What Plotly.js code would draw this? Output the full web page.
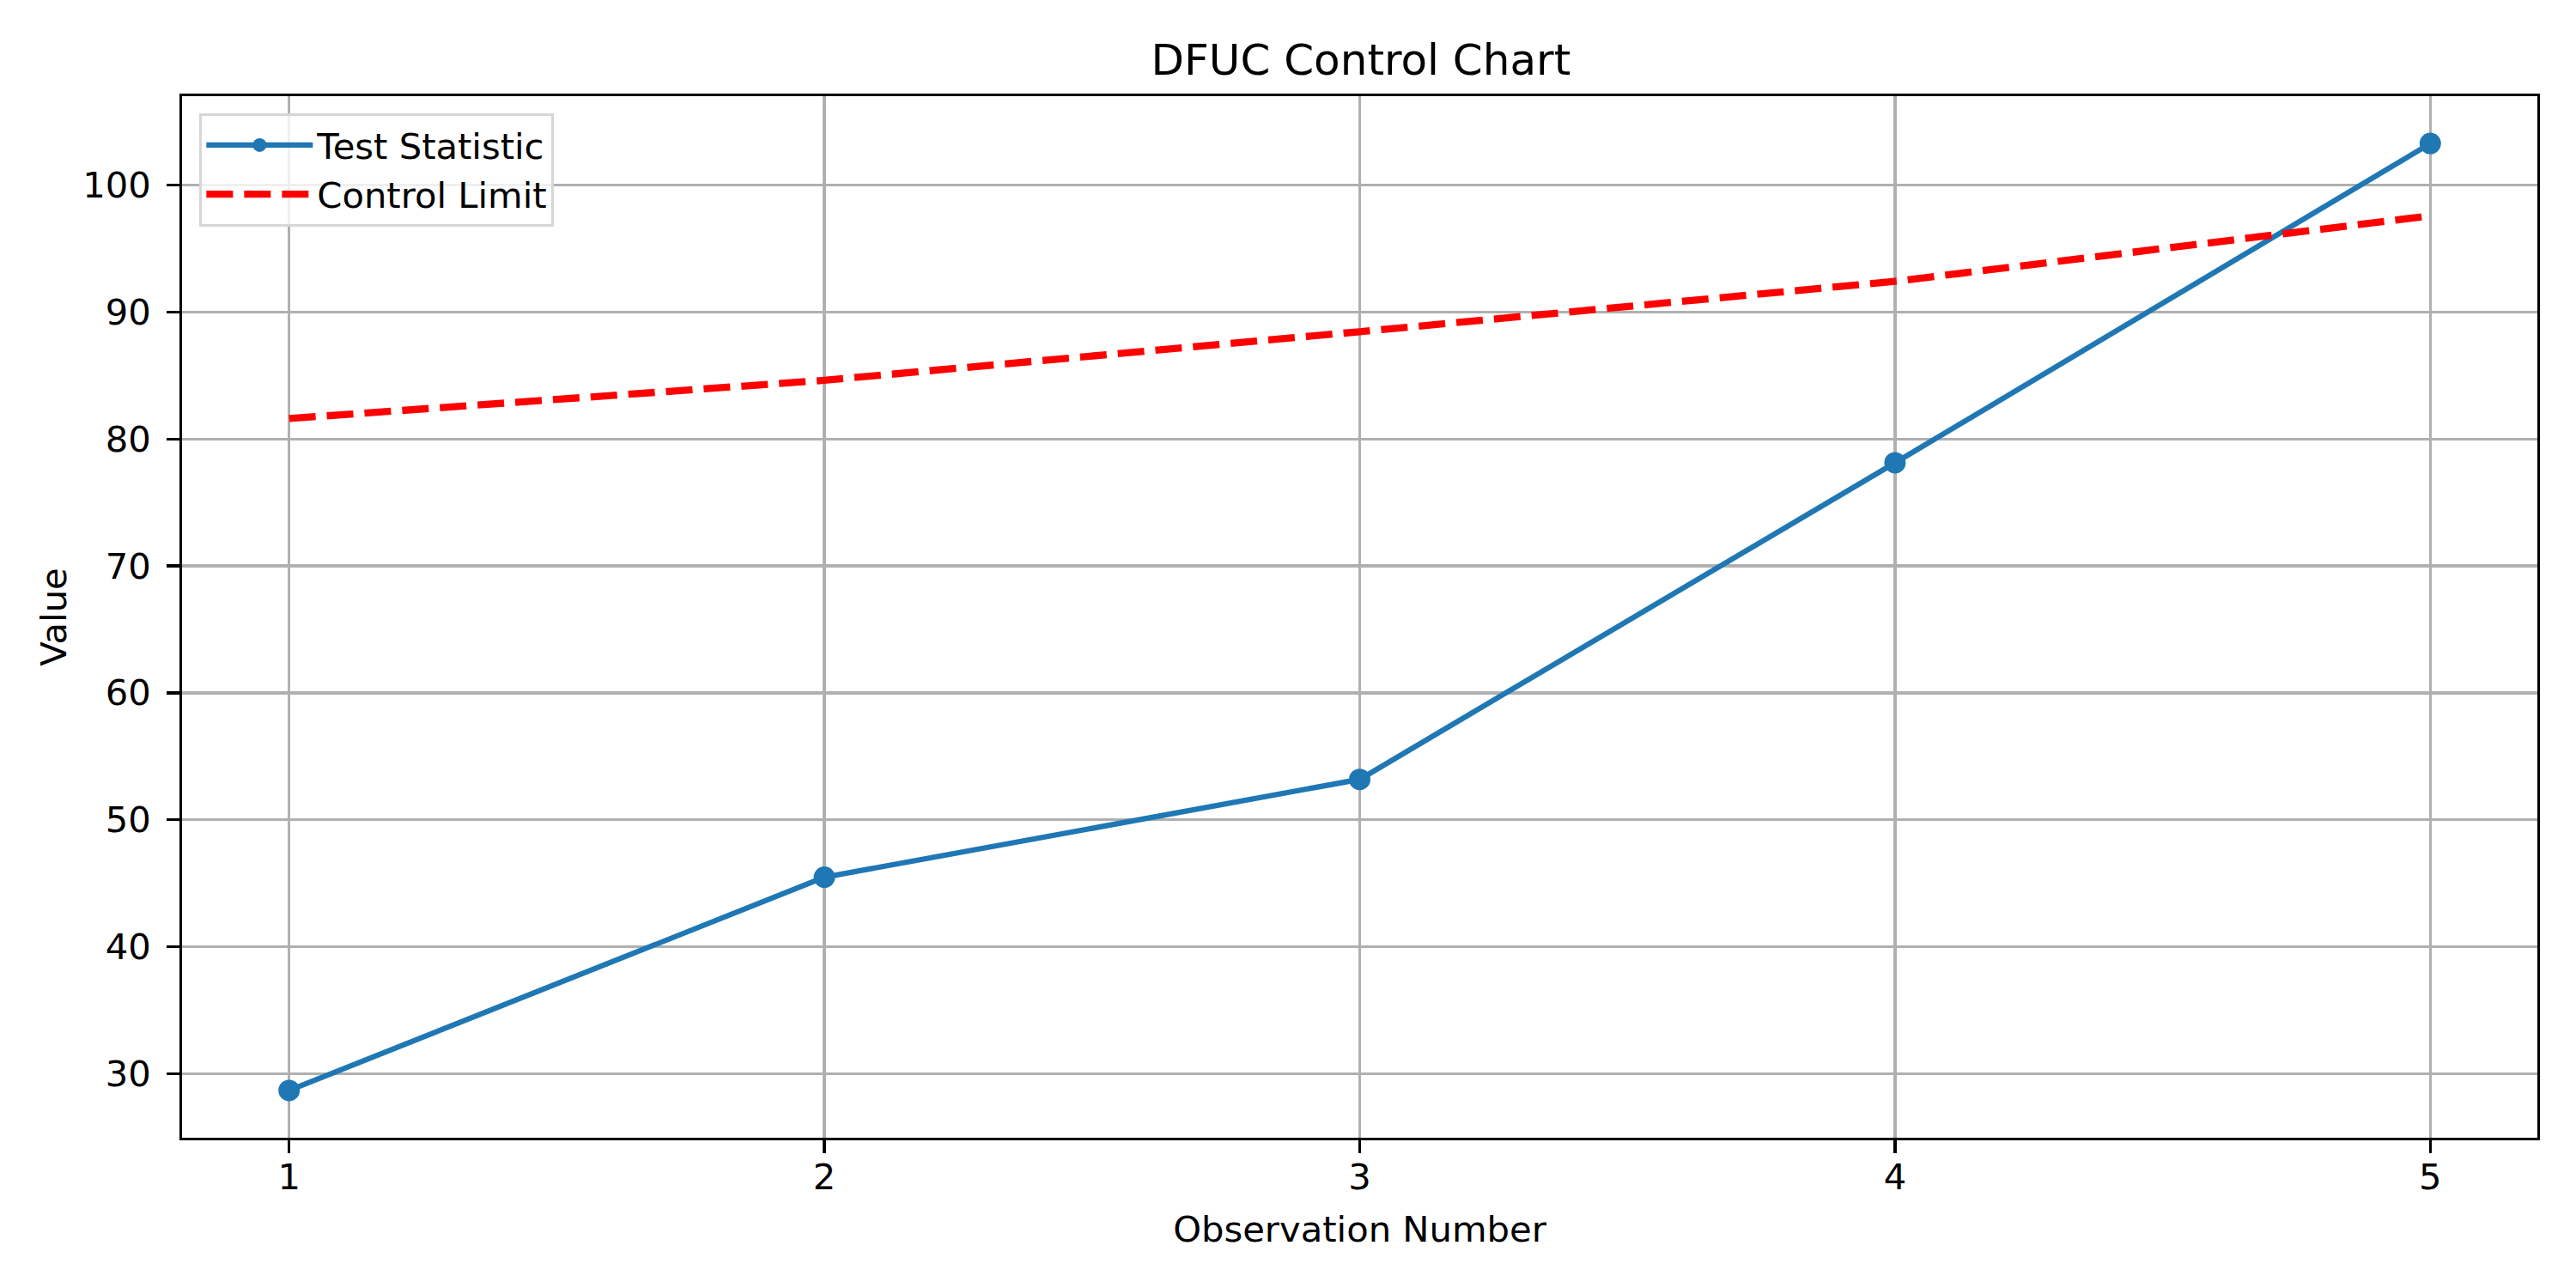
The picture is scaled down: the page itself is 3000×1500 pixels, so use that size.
<!DOCTYPE html>
<html>
<head>
<meta charset="utf-8">
<script src="https://cdn.plot.ly/plotly-3.0.1.min.js"></script>
<style>html,body{margin:0;padding:0;background:#fff;}#chart{width:3000px;height:1500px;}</style>
</head>
<body>
<div id="chart"></div>
<script>
const observations = [1, 2, 3, 4, 5];
const testStatistic = [28.67, 45.47, 53.18, 78.13, 103.29];
const controlLimit = [81.62, 84.63, 88.46, 92.43, 97.59];
const xTicks = [1, 2, 3, 4, 5];
const yTicks = [30, 40, 50, 60, 70, 80, 90, 100];

const FONT = 'DejaVu Sans, sans-serif';

const traces = [
  {
    x: observations, y: testStatistic, name: 'Test Statistic',
    type: 'scatter', mode: 'lines+markers',
    line: {color: '#1f77b4', width: 6.25},
    marker: {color: '#1f77b4', size: 25}
  },
  {
    x: observations, y: controlLimit, name: 'Control Limit',
    type: 'scatter', mode: 'lines',
    line: {color: '#ff0000', width: 8.33, dash: '31px,13px'}
  }
];

const axisCommon = {
  showline: true, mirror: true, linecolor: '#000', linewidth: 3.33,
  showgrid: true, gridcolor: '#b0b0b0', gridwidth: 3.33,
  zeroline: false,
  ticks: 'outside', ticklen: 14.6, tickwidth: 3.33, tickcolor: '#000',
  tickfont: {family: FONT, size: 41.7, color: '#000'}
};

const layout = {
  width: 3000, height: 1500,
  paper_bgcolor: '#fff', plot_bgcolor: '#fff',
  margin: {l: 212, r: 45, t: 112, b: 175, pad: 0},
  showlegend: true,
  title: {
    text: 'DFUC Control Chart',
    font: {family: FONT, size: 50, color: '#000'},
    x: 0.5283, xref: 'container', xanchor: 'center',
    y: 1 - 69 / 1500, yref: 'container', yanchor: 'middle'
  },
  xaxis: Object.assign({}, axisCommon, {
    range: [0.8, 5.2], tickvals: xTicks, ticktext: xTicks.map(String),
    ticklabelstandoff: -8,
    title: {text: 'Observation Number', font: {family: FONT, size: 41.7, color: '#000'}, standoff: 24}
  }),
  yaxis: Object.assign({}, axisCommon, {
    range: [24.94, 107.02], tickvals: yTicks, ticktext: yTicks.map(String),
    ticklabelstandoff: 10,
    title: {text: 'Value', font: {family: FONT, size: 41.7, color: '#000'}, standoff: 6}
  }),
  legend: {
    x: (232 - 212) / 2743, xanchor: 'left',
    y: 1 - (132 - 112) / 1213, yanchor: 'top',
    bgcolor: 'rgba(255,255,255,0.8)', bordercolor: '#d6d6d6', borderwidth: 3.33,
    font: {family: FONT, size: 41.7, color: '#000'},
    itemwidth: 124, tracegroupgap: 0
  }
};

Plotly.newPlot('chart', traces, layout, {displayModeBar: false, staticPlot: true});
</script>
</body>
</html>
